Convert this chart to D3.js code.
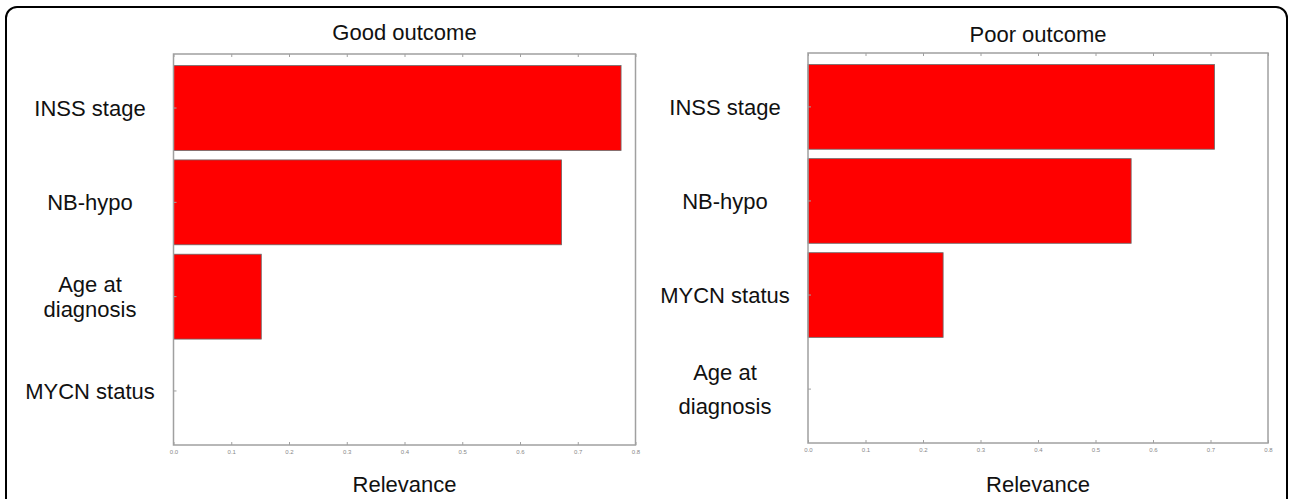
<!DOCTYPE html>
<html><head><meta charset="utf-8">
<script src="https://cdn.jsdelivr.net/npm/d3@7"></script>
<style>body{margin:0;background:#fff}svg{display:block}</style>
</head><body>
<script>
const goodCategories = [["INSS stage"], ["NB-hypo"], ["Age at", "diagnosis"], ["MYCN status"]];
const goodValues = [0.775, 0.672, 0.152, 0];
const poorCategories = [["INSS stage"], ["NB-hypo"], ["MYCN status"], ["Age at", "diagnosis"]];
const poorValues = [0.707, 0.562, 0.235, 0];
const xTicks = [0, 0.1, 0.2, 0.3, 0.4, 0.5, 0.6, 0.7, 0.8];
const titles = ["Good outcome", "Poor outcome"];
const xLabel = "Relevance";

const W = 1289, H = 499;
const svg = d3.select("body").append("svg").attr("width", W).attr("height", H);
svg.append("rect").attr("x", 6).attr("y", 7).attr("width", 1281).attr("height", 520)
  .attr("rx", 11).attr("fill", "none").attr("stroke", "#000").attr("stroke-width", 2);

const panels = [
  {cats: goodCategories, vals: goodValues, title: titles[0], x0: 173.5, x1: 635.5, y0: 54, y1: 445, labX: 90, lh: 25, ty: 40},
  {cats: poorCategories, vals: poorValues, title: titles[1], x0: 808, x1: 1268, y0: 53, y1: 443, labX: 725, lh: 34, ty: 42}
];
const font = "'Liberation Sans', Arial, Helvetica, sans-serif";
const FS = 22;

panels.forEach(p => {
  const g = svg.append("g");
  const x = d3.scaleLinear().domain([0, 0.8]).range([p.x0, p.x1]);
  const y = d3.scaleBand().domain(d3.range(p.cats.length)).range([p.y0, p.y1])
    .paddingInner(0.1).paddingOuter(0.123);
  g.selectAll("rect.bar").data(p.vals).join("rect").attr("class", "bar")
    .attr("x", x(0)).attr("y", (d, i) => y(i))
    .attr("width", d => Math.max(0, x(d) - x(0))).attr("height", y.bandwidth())
    .attr("fill", "#ff0000").attr("stroke", d => d > 0 ? "#6a6a6a" : "none").attr("stroke-width", 0.8);
  g.append("rect").attr("x", p.x0).attr("y", p.y0).attr("width", p.x1 - p.x0).attr("height", p.y1 - p.y0)
    .attr("fill", "none").attr("stroke", "#a0a0a0").attr("stroke-width", 1.5);
  const axB = d3.axisBottom(x).tickValues(xTicks).tickSize(-3).tickPadding(5).tickFormat(d3.format(".1f"));
  const gb = g.append("g").attr("transform", `translate(0,${p.y1})`).call(axB);
  gb.select(".domain").remove();
  gb.selectAll("line").attr("stroke", "#a0a0a0");
  gb.selectAll("text").attr("fill", "#888").attr("font-size", 6).attr("font-family", font);
  const axT = d3.axisTop(x).tickValues(xTicks).tickSize(-3).tickFormat("");
  const gt = g.append("g").attr("transform", `translate(0,${p.y0})`).call(axT);
  gt.select(".domain").remove();
  gt.selectAll("line").attr("stroke", "#a0a0a0");
  g.selectAll("line.yt").data(p.vals).join("line").attr("class", "yt")
    .attr("x1", p.x0).attr("x2", p.x0 + 3)
    .attr("y1", (d, i) => y(i) + y.bandwidth() / 2).attr("y2", (d, i) => y(i) + y.bandwidth() / 2)
    .attr("stroke", "#a0a0a0");
  p.cats.forEach((lines, i) => {
    const cy = y(i) + y.bandwidth() / 2;
    const t = g.append("text").attr("x", p.labX).attr("text-anchor", "middle")
      .attr("font-family", font).attr("font-size", FS).attr("fill", "#111");
    lines.forEach((ln, j) => {
      t.append("tspan").attr("x", p.labX)
        .attr("y", cy + (j - (lines.length - 1) / 2) * p.lh + 8).text(ln);
    });
  });
  g.append("text").attr("x", (p.x0 + p.x1) / 2).attr("y", p.ty).attr("text-anchor", "middle")
    .attr("font-family", font).attr("font-size", FS).attr("fill", "#111").text(p.title);
  g.append("text").attr("x", (p.x0 + p.x1) / 2).attr("y", 492).attr("text-anchor", "middle")
    .attr("font-family", font).attr("font-size", FS).attr("fill", "#111").text(xLabel);
});
</script>
</body></html>
